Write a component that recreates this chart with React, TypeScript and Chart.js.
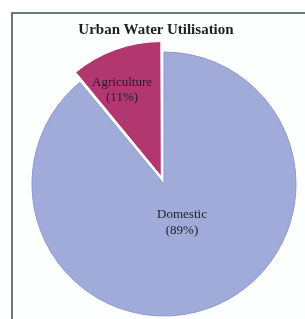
import React, { useEffect, useRef } from "react";
import { Chart, registerables } from "chart.js";

Chart.register(...registerables);

const title = "Urban Water Utilisation";
const categories = ["Domestic", "Agriculture"];
const shares = [89, 11];
const percentLabels = ["(89%)", "(11%)"];
const sliceColors = ["#a0abd9", "#b3376f"];
const sliceBorders = ["#8d99cf", "#ffffff"];
// explode distance in pixels (Chart.js 4 draws arcs shifted by offset / 4)
const sliceExplode = [0, 8];
const labelRadiusFraction = [0.32, 0.72];
const labelAngleFraction = [0.483, 0.384];

const sliceLabelPlugin = {
  id: "sliceLabels",
  afterDatasetsDraw(chart: any) {
    const ctx = chart.ctx;
    const meta = chart.getDatasetMeta(0);
    ctx.save();
    ctx.font = '13px "Liberation Serif", "Times New Roman", serif';
    ctx.fillStyle = "#1e1e2a";
    ctx.textAlign = "center";
    ctx.textBaseline = "middle";
    meta.data.forEach((arc: any, i: number) => {
      const p = arc.getProps(["x", "y", "startAngle", "endAngle", "outerRadius"], true);
      const mid = (p.startAngle + p.endAngle) / 2;
      const off = sliceExplode[i] || 0;
      const ox = p.x + Math.cos(mid) * off;
      const oy = p.y + Math.sin(mid) * off;
      const a = p.startAngle + (p.endAngle - p.startAngle) * labelAngleFraction[i];
      const r = p.outerRadius * labelRadiusFraction[i];
      const cx = ox + Math.cos(a) * r;
      const cy = oy + Math.sin(a) * r;
      ctx.fillText(categories[i], cx, cy - 7.5);
      ctx.fillText(percentLabels[i], cx, cy + 8);
    });
    ctx.restore();
  },
};

export default function App() {
  const ref = useRef<HTMLCanvasElement | null>(null);

  useEffect(() => {
    if (!ref.current) return;
    const chart = new Chart(ref.current, {
      type: "pie",
      data: {
        labels: categories,
        datasets: [
          {
            data: shares,
            backgroundColor: sliceColors,
            borderColor: sliceBorders,
            borderWidth: 1,
            offset: sliceExplode.map((v) => v * 4),
          } as any,
        ],
      },
      options: {
        animation: false,
        responsive: false,
        radius: 132,
        layout: { padding: { left: 20, right: 22, top: 45, bottom: 17 } },
        plugins: {
          legend: { display: false },
          tooltip: { enabled: false },
          title: { display: false },
        },
      } as any,
      plugins: [sliceLabelPlugin],
    });
    return () => chart.destroy();
  }, []);

  return (
    <div
      style={{
        position: "fixed",
        left: 0,
        top: 0,
        width: 305,
        height: 319,
        overflow: "hidden",
        background: "#ffffff",
      }}
    >
      <div
        style={{
          position: "absolute",
          left: 11,
          top: 12,
          width: 400,
          height: 400,
          border: "2px solid #6e7873",
          background: "#fdfefe",
        }}
      />
      <canvas
        ref={ref}
        width={330}
        height={340}
        style={{ position: "absolute", left: 0, top: 0, width: 330, height: 340 }}
      />
      <div
        style={{
          position: "absolute",
          left: 0,
          top: 20,
          width: 312,
          textAlign: "center",
          font: 'bold 15px "Liberation Serif", "Times New Roman", serif',
          color: "#1e1e1e",
          lineHeight: "18px",
        }}
      >
        {title}
      </div>
    </div>
  );
}
